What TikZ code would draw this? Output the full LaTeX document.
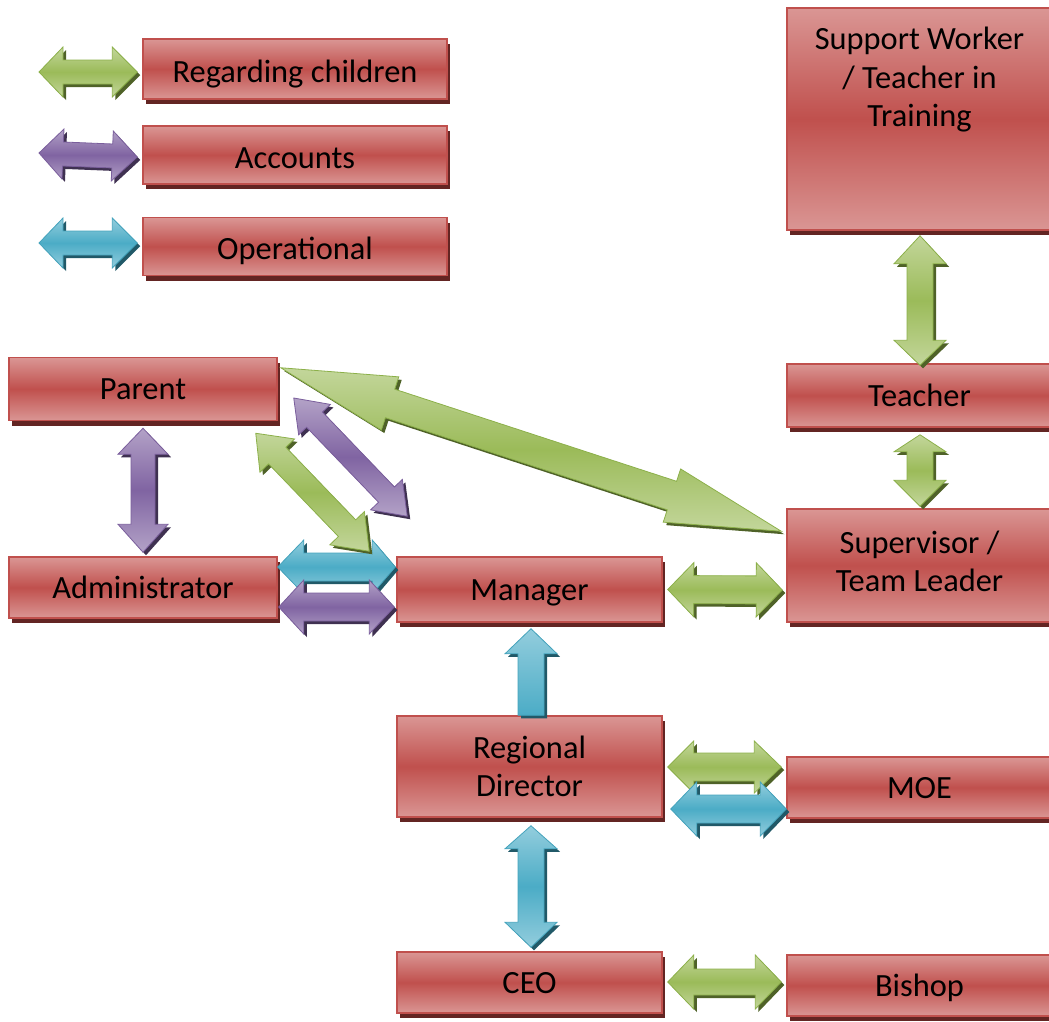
\documentclass[tikz,border=0pt]{standalone}
\usepackage{fontspec}
\setmainfont{Carlito}
\usetikzlibrary{calc,shadows}
\definecolor{boxmid}{HTML}{C0504D}
\definecolor{boxlt}{HTML}{DA9694}
\definecolor{boxedge}{HTML}{C0504D}
\definecolor{boxshd}{HTML}{632523}
\definecolor{grn}{HTML}{9BBB59}
\definecolor{grnlt}{HTML}{C3D69B}
\definecolor{grnedge}{HTML}{8CB04A}
\definecolor{grnshd}{HTML}{4F6228}
\definecolor{pur}{HTML}{8064A2}
\definecolor{purlt}{HTML}{B3A2C7}
\definecolor{puredge}{HTML}{7A5E9C}
\definecolor{purshd}{HTML}{3F3151}
\definecolor{cya}{HTML}{4BACC6}
\definecolor{cyalt}{HTML}{93CDDD}
\definecolor{cyaedge}{HTML}{44A3BC}
\definecolor{cyashd}{HTML}{215968}

\tikzset{
  boxbase/.style={draw=boxedge, line width=1.5pt,
    top color=boxlt, bottom color=boxlt, middle color=boxmid,
    general shadow={fill=boxshd, shadow xshift=3pt, shadow yshift=-5pt},
    inner sep=0pt, align=center, text=black,
    font=\fontsize{32.4}{38.5}\selectfont},
  box/.style={boxbase, text height=26.5pt, text depth=5.5pt},
  legbox/.style={boxbase, text height=32pt, text depth=5.5pt, minimum width=304},
  boxtext/.style={inner sep=0pt, align=center, text=black,
    font=\fontsize{32.4}{38.5}\selectfont},
}

% double-headed block arrow: options, from, to, L1, L2, h, w
\newcommand\arrshape[7]{%
  \path[#1] let \p3=($(#3)-(#2)$), \n1={atan2(\y3,\x3)}, \p1=(#2), \p2=(#3) in
    (\p1) -- ($(\p1)+(\n1:#4)+(\n1+90:#6)$) -- ($(\p1)+(\n1:#4)+(\n1+90:#7)$)
    -- ($(\p2)+(\n1+180:#5)+(\n1+90:#7)$) -- ($(\p2)+(\n1+180:#5)+(\n1+90:#6)$)
    -- (\p2) -- ($(\p2)+(\n1+180:#5)+(\n1-90:#6)$) -- ($(\p2)+(\n1+180:#5)+(\n1-90:#7)$)
    -- ($(\p1)+(\n1:#4)+(\n1-90:#7)$) -- ($(\p1)+(\n1:#4)+(\n1-90:#6)$) -- cycle;}
\newcommand\biarrow[7]{%
  \arrshape{fill=#1shd, transform canvas={shift={(3pt,-3pt)}}}{#2}{#3}{#4}{#5}{#6}{#7}%
  \arrshape{draw=#1edge, line width=0.8pt, top color=#1lt, bottom color=#1lt, middle color=#1}{#2}{#3}{#4}{#5}{#6}{#7}}
% single-headed block arrow: options, tail, tip, L, h, w
\newcommand\uniarrshape[6]{%
  \path[#1] let \p3=($(#3)-(#2)$), \n1={atan2(\y3,\x3)}, \p1=(#2), \p2=(#3) in
    ($(\p1)+(\n1+90:#6)$) -- ($(\p2)+(\n1+180:#4)+(\n1+90:#6)$) -- ($(\p2)+(\n1+180:#4)+(\n1+90:#5)$)
    -- (\p2) -- ($(\p2)+(\n1+180:#4)+(\n1-90:#5)$) -- ($(\p2)+(\n1+180:#4)+(\n1-90:#6)$)
    -- ($(\p1)+(\n1-90:#6)$) -- cycle;}
\newcommand\uniarrow[6]{%
  \uniarrshape{fill=#1shd, transform canvas={shift={(3pt,-3pt)}}}{#2}{#3}{#4}{#5}{#6}%
  \uniarrshape{draw=#1edge, line width=0.8pt, top color=#1lt, bottom color=#1}{#2}{#3}{#4}{#5}{#6}}

\begin{document}
\begin{tikzpicture}[x=1pt,y=1pt]
\useasboundingbox (0,0) rectangle (1049,-1021);

% legend
\node[legbox, minimum height=60] (legChild) at (295,-69) {Regarding children};
\node[legbox, minimum height=58] (legAcc) at (295,-155) {Accounts};
\node[legbox, minimum height=58] (legOp) at (295,-246.5) {Operational};
\coordinate (gA) at (39,-72);
\coordinate (pA) at (39,-153);
\coordinate (cA) at (39,-243);

% organisation
\node[boxbase, minimum width=265, minimum height=222] (support) at (919.5,-119) {};
\node[boxtext, anchor=north] (supporttext) at (919.5,-27) {Support Worker\\/ Teacher in\\Training};
\node[box, minimum width=265, minimum height=63] (teacher) at (919.5,-395.5) {Teacher};
\node[boxbase, minimum width=265, minimum height=113] (supervisor) at (919.5,-565.5) {};
\node[boxtext] (supervisortext) at ($(supervisor.center)+(0,4)$) {Supervisor /\\Team Leader};
\node[box, minimum width=268, minimum height=63] (parent) at (143,-389) {Parent};
\node[box, minimum width=268, minimum height=61] (admin) at (143,-587.5) {Administrator};
\node[box, minimum width=265, minimum height=65] (manager) at (529.5,-589.5) {Manager};
\node[boxbase, minimum width=265, minimum height=101] (regional) at (529.5,-766.5) {Regional\\Director};
\node[box, minimum width=265, minimum height=61] (moe) at (919.5,-787.5) {MOE};
\node[box, minimum width=265, minimum height=61] (ceo) at (529.5,-982.5) {CEO};
\node[box, minimum width=265, minimum height=61] (bishop) at (919.5,-985.5) {Bishop};

% legend arrows
\biarrow{grn}{gA}{$(legChild.west)+(-5,-3)$}{24}{25}{25}{12}
\biarrow{pur}{pA}{$(legAcc.west)+(-5,-2)$}{24}{25}{25}{12}
\biarrow{cya}{cA}{$(legOp.west)+(-5,3.5)$}{24}{25}{25}{12}

% connectors
\biarrow{grn}{$(support.south)+(0.5,-5)$}{$(teacher.north)+(0.5,-2)$}{28}{25}{26}{13}
\biarrow{grn}{$(teacher.south)+(0.5,-7)$}{$(supervisor.north)+(0.5,2)$}{17}{26}{26}{13}
\biarrow{pur}{$(parent.south)+(0,-7)$}{$(admin.north)+(0,4)$}{26}{28}{25}{12}
\biarrow{cya}{$(admin.east)+(0,20.5)$}{$(manager.west)+(-1,22.5)$}{26}{23}{27}{14}
\biarrow{pur}{$(admin.east)+(1,-19.5)$}{$(manager.west)+(-2,-17.5)$}{25}{25}{27}{14}
\biarrow{pur}{$(parent.east)+(16,-9)$}{$(manager.north west)+(11,40)$}{30}{30}{22}{11}
\biarrow{grn}{$(parent.south east)+(-22,-12)$}{$(manager.north west)+(-27,5)$}{31}{32}{24}{12}
\biarrow{grn}{$(parent.north east)+(3,-11)$}{$(supervisor.north west)+(-5,-23)$}{115}{115}{28}{15}
\biarrow{grn}{$(manager.east)+(5,0)$}{$(supervisor.west)+(-4,-24.5)$}{26}{26}{27}{14}
\uniarrow{cya}{$(regional.north)+(1.5,0)$}{$(manager.south)+(1.5,-6)$}{25}{26}{13}
\biarrow{cya}{$(regional.south)+(1.5,-8)$}{$(ceo.north)+(1.5,4)$}{23}{25}{26}{13}
\biarrow{grn}{$(regional.east)+(5,-0.5)$}{$(moe.west)+(-5,20.5)$}{26}{27}{26}{14}
\biarrow{cya}{$(regional.east)+(8,-42.5)$}{$(moe.west)+(0,-21.5)$}{26}{26}{27}{14}
\biarrow{grn}{$(ceo.east)+(5,0.5)$}{$(bishop.west)+(-5,3.5)$}{26}{26}{27}{13}
\end{tikzpicture}
\end{document}
